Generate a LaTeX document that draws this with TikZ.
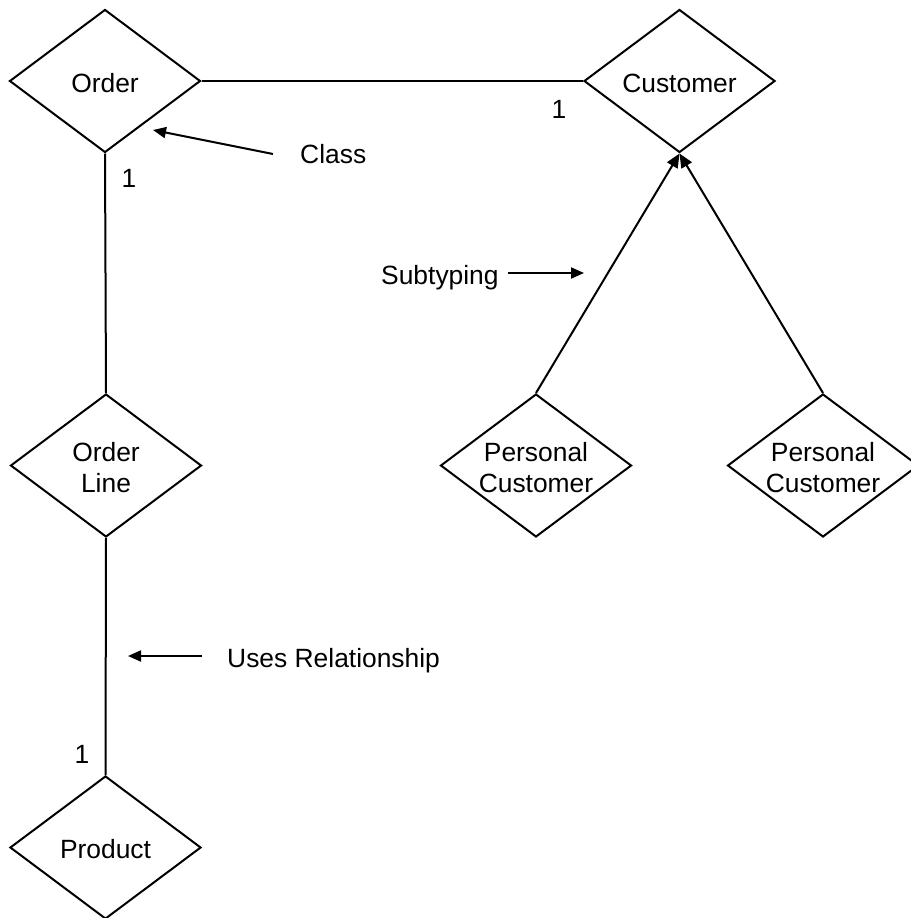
\documentclass[tikz,border=0pt]{standalone}
\usepackage{fontspec}
\setmainfont{Liberation Sans}
\usetikzlibrary{shapes.geometric,arrows.meta}

\begin{document}
\begin{tikzpicture}[x=1pt,y=-1pt,
  every node/.style={font=\fontsize{26.4}{31}\selectfont},
  entity/.style={draw,shape=diamond,line width=2pt,inner sep=0pt,
    minimum width=191pt,minimum height=143pt,
    label={[yshift=-2pt,align=center]center:{#1}}},
  link/.style={line width=2pt},
  isa/.style={line width=2pt,-{Triangle[length=14pt,width=12pt]}},
  note/.style={line width=2pt,-{Triangle[length=13pt,width=11pt]}},
  txt/.style={inner sep=0pt,anchor=base west},
  card/.style={inner sep=0pt,anchor=base}]
  \useasboundingbox (0,0) rectangle (910,918);

  % entities
  \node[entity=Order] (order) at (105,81) {};
  \node[entity=Customer] (cust) at (679.5,81) {};
  \node[entity={Order\\Line}] (oline) at (106,465.5) {};
  \node[entity=Product] (prod) at (105.5,847.5) {};
  \node[entity={Personal\\Customer}] (pcA) at (536,465.5) {};
  \node[entity={Personal\\Customer}] (pcB) at (823,465.5) {};

  % relationships
  \draw[link] (order.east) -- (cust.west);
  \draw[link] (order.south) -- (oline.north);
  \draw[link] (oline.south) -- (prod.north);

  % subtypes
  \draw[isa] (pcA.north) -- (cust.south);
  \draw[isa] (pcB.north) -- (cust.south);

  % cardinalities
  \node[card] (c1) at (129,187) {1};
  \node[card] (c2) at (559,118) {1};
  \node[card] (c3) at (82,763) {1};

  % annotations
  \node[txt] (classlbl) at (300,163) {Class};
  \coordinate (classtail) at (273,154);
  \coordinate (classtip) at (153,130);
  \draw[note] (classtail) -- (classtip);

  \node[txt] (sublbl) at (381,284) {Subtyping};
  \coordinate (subtail) at (508,273);
  \coordinate (subtip) at (584,273);
  \draw[note] (subtail) -- (subtip);

  \node[txt] (useslbl) at (227,667) {Uses Relationship};
  \coordinate (usestail) at (202,656);
  \coordinate (usestip) at (128,656);
  \draw[note] (usestail) -- (usestip);
\end{tikzpicture}
\end{document}
